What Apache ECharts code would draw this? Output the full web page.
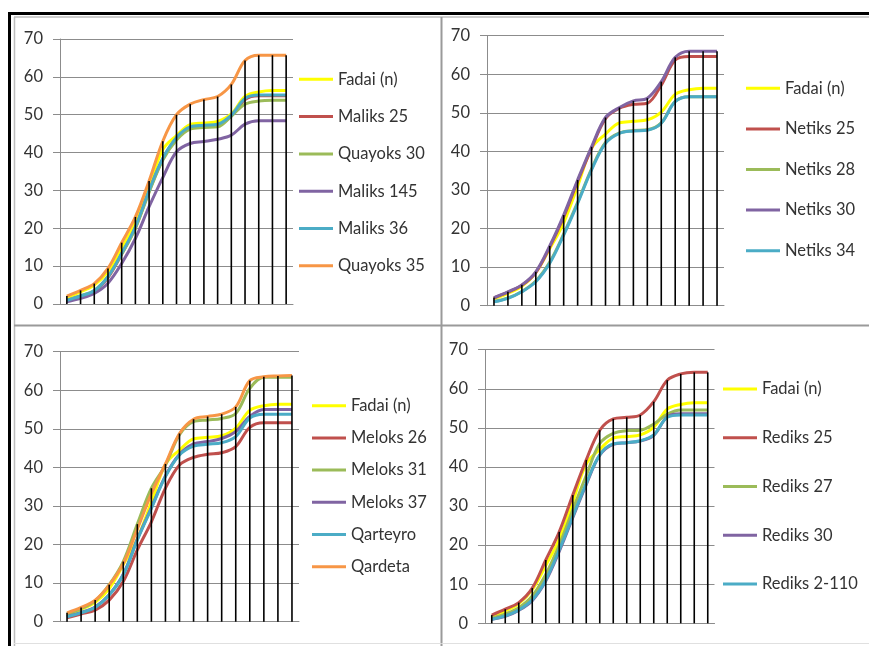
<!DOCTYPE html>
<html>
<head>
<meta charset="utf-8">
<script src="https://cdn.jsdelivr.net/npm/echarts@6/dist/echarts.min.js"></script>
<style>
html,body{margin:0;padding:0;background:#fff;}
#c{width:869px;height:646px;}
</style>
</head>
<body>
<div id="c"></div>
<script>
// ---- data ----
var categories = ['1','2','3','4','5','6','7','8','9','10','11','12','13','14','15','16','17'];
var yTicks = [0,10,20,30,40,50,60,70];

var fadai      = [1.8, 3.2, 5.0, 8.6, 14.8, 21.5, 31.0, 40.8, 44.5, 47.4, 47.8, 48.2, 50.2, 54.8, 56.0, 56.4, 56.4];

// panel 1
var maliks25   = [1.0, 2.0, 3.4, 7.0, 13.2, 20.2, 29.8, 38.3, 43.8, 46.6, 47.0, 47.3, 49.7, 54.0, 55.0, 55.0, 55.0];
var quayoks30  = [1.1, 2.2, 3.6, 7.3, 13.2, 20.0, 29.5, 38.0, 43.3, 46.2, 46.6, 46.8, 49.6, 52.8, 53.6, 53.8, 53.8];
var maliks145  = [0.6, 1.5, 2.8, 5.5, 10.7, 17.3, 25.7, 33.4, 40.2, 42.4, 42.9, 43.5, 44.6, 47.5, 48.4, 48.4, 48.4];
var maliks36   = [1.0, 2.1, 3.5, 7.2, 13.4, 20.4, 30.0, 38.5, 44.0, 46.8, 47.2, 47.5, 49.9, 54.3, 55.2, 55.2, 55.2];
var quayoks35  = [2.1, 3.6, 5.4, 9.4, 16.2, 23.0, 32.5, 43.0, 50.0, 52.8, 54.0, 54.8, 58.0, 64.3, 65.7, 65.7, 65.7];

// panel 2
var netiks25   = [2.0, 3.5, 5.3, 8.6, 15.2, 23.0, 32.2, 40.8, 48.5, 51.2, 52.2, 52.5, 57.2, 63.7, 64.6, 64.6, 64.6];
var netiks28   = [1.1, 2.0, 3.7, 6.4, 11.3, 18.6, 26.8, 35.5, 42.3, 44.8, 45.4, 45.6, 47.4, 53.0, 54.2, 54.2, 54.2];
var netiks30   = [2.1, 3.6, 5.4, 8.8, 15.5, 23.5, 32.6, 41.2, 48.8, 51.4, 53.1, 53.8, 58.1, 64.4, 66.0, 66.0, 66.0];
var netiks34   = [1.0, 1.9, 3.6, 6.2, 11.0, 18.3, 26.5, 35.2, 42.1, 44.7, 45.3, 45.5, 47.3, 52.9, 54.2, 54.2, 54.2];

// panel 3
var meloks26   = [1.0, 2.0, 3.0, 5.6, 10.4, 18.6, 25.9, 34.6, 40.6, 42.6, 43.4, 43.8, 45.4, 50.4, 51.6, 51.6, 51.6];
var meloks31   = [2.0, 3.4, 5.4, 9.6, 15.6, 25.3, 34.6, 40.6, 48.5, 51.9, 52.3, 52.7, 54.0, 60.5, 63.4, 63.4, 63.4];
var meloks37   = [1.3, 2.4, 3.8, 7.0, 12.3, 21.4, 29.6, 37.8, 43.4, 46.1, 46.7, 47.5, 49.3, 53.2, 55.0, 55.0, 55.0];
var qarteyro   = [1.3, 2.3, 3.7, 6.9, 12.1, 21.2, 29.4, 37.6, 43.2, 45.5, 46.0, 46.4, 48.0, 52.8, 53.8, 53.8, 53.8];
var qardeta    = [2.3, 3.7, 5.6, 9.5, 15.1, 24.0, 33.2, 40.9, 48.8, 52.5, 53.2, 53.8, 55.7, 62.5, 63.5, 63.7, 63.8];

// panel 4
var rediks25   = [2.1, 3.6, 5.3, 9.0, 16.2, 23.4, 32.8, 41.8, 49.4, 52.3, 52.7, 53.3, 56.7, 62.2, 63.8, 64.2, 64.2];
var rediks27   = [1.3, 2.4, 4.0, 7.0, 12.5, 20.0, 29.0, 37.8, 46.0, 48.6, 49.3, 49.4, 51.0, 53.5, 54.6, 54.6, 54.6];
var rediks30   = [1.0, 1.8, 3.3, 5.8, 10.8, 18.4, 27.0, 35.5, 43.0, 45.8, 46.2, 46.6, 48.1, 52.8, 53.6, 53.6, 53.6];
var rediks2110 = [1.0, 1.9, 3.4, 6.0, 11.1, 18.8, 27.3, 35.8, 43.1, 45.9, 46.2, 46.7, 48.2, 52.7, 53.3, 53.3, 53.3];

// ---- styling ----
var C = {yellow:'#FFFF00', red:'#C0504D', green:'#9BBB59', purple:'#8064A2', teal:'#4BACC6', orange:'#F79646'};
var FONT = 'Lato, "Open Sans", "Liberation Sans", sans-serif';
var GRIDC = '#8c8c8c';

var panels = [
  { grid:{left:60, top:39, width:233, height:265},
    legend:{left:299, top:70.3, gap:19.3},
    series:[['Fadai (n)',fadai,C.yellow],['Maliks 25',maliks25,C.red],['Quayoks 30',quayoks30,C.green],
            ['Maliks 145',maliks145,C.purple],['Maliks 36',maliks36,C.teal],['Quayoks 35',quayoks35,C.orange]] },
  { grid:{left:487, top:35.7, width:237, height:270},
    legend:{left:746, top:79.3, gap:22.6},
    series:[['Fadai (n)',fadai,C.yellow],['Netiks 25',netiks25,C.red],['Netiks 28',netiks28,C.green],
            ['Netiks 30',netiks30,C.purple],['Netiks 34',netiks34,C.teal]] },
  { grid:{left:60, top:351.7, width:239, height:270},
    legend:{left:312, top:396.7, gap:14.2},
    series:[['Fadai (n)',fadai,C.yellow],['Meloks 26',meloks26,C.red],['Meloks 31',meloks31,C.green],
            ['Meloks 37',meloks37,C.purple],['Qarteyro',qarteyro,C.teal],['Qardeta',qardeta,C.orange]] },
  { grid:{left:485, top:349.7, width:229.5, height:273.6},
    legend:{left:723, top:380, gap:30.75},
    series:[['Fadai (n)',fadai,C.yellow],['Rediks 25',rediks25,C.red],['Rediks 27',rediks27,C.green],
            ['Rediks 30',rediks30,C.purple],['Rediks 2-110',rediks2110,C.teal]] }
];

var grids=[], xAxes=[], yAxes=[], legends=[], series=[];
panels.forEach(function(p, i){
  grids.push({left:p.grid.left, top:p.grid.top, width:p.grid.width, height:p.grid.height, containLabel:false});
  xAxes.push({type:'category', gridIndex:i, data:categories, boundaryGap:true,
    axisLine:{show:true, lineStyle:{color:GRIDC, width:1}}, axisTick:{show:false}, axisLabel:{show:false}, splitLine:{show:false}});
  yAxes.push({type:'value', gridIndex:i, min:yTicks[0], max:yTicks[yTicks.length-1], interval:10,
    axisLine:{show:true, lineStyle:{color:GRIDC, width:1}},
    axisTick:{show:true, length:7, lineStyle:{color:GRIDC}},
    axisLabel:{show:true, margin:17, color:'#333', fontSize:16.5, fontFamily:FONT},
    splitLine:{show:true, lineStyle:{color:GRIDC, width:1}}});
  legends.push({orient:'vertical', left:p.legend.left, top:p.legend.top, itemGap:p.legend.gap, padding:0,
    icon:'rect', itemWidth:34, itemHeight:3,
    textStyle:{fontSize:16.5, lineHeight:18, color:'#333', fontFamily:FONT},
    data:p.series.map(function(s){return s[0];}), selectedMode:false});
  p.series.forEach(function(s){
    series.push({type:'line', name:s[0], xAxisIndex:i, yAxisIndex:i, data:s[1], smooth:0.35,
      symbol:'none', color:s[2], lineStyle:{width:3, color:s[2]}, z:2});
  });
  // drop lines: from the highest series value at each category down to the axis
  var tops = categories.map(function(_, k){
    return Math.max.apply(null, p.series.map(function(s){return s[1][k];}));
  });
  series.push({type:'bar', name:'drop'+i, xAxisIndex:i, yAxisIndex:i, data:tops, barWidth:1.6,
    itemStyle:{color:'#000'}, z:4, silent:true});
});

var graphic = [
  // outer black frame
  {type:'line', shape:{x1:8, y1:13.5, x2:869, y2:13.5}, style:{stroke:'#000', lineWidth:3}, silent:true},
  {type:'line', shape:{x1:9.5, y1:12, x2:9.5, y2:646}, style:{stroke:'#000', lineWidth:3}, silent:true},
  // light gray inner panel borders
  {type:'line', shape:{x1:14, y1:17, x2:869, y2:17}, style:{stroke:'#bdbdbd', lineWidth:1.5}, silent:true},
  {type:'line', shape:{x1:14.5, y1:17, x2:14.5, y2:646}, style:{stroke:'#bdbdbd', lineWidth:1.5}, silent:true},
  {type:'line', shape:{x1:441.5, y1:17, x2:441.5, y2:646}, style:{stroke:'#9a9a9a', lineWidth:2}, silent:true},
  {type:'line', shape:{x1:14, y1:325.5, x2:869, y2:325.5}, style:{stroke:'#9a9a9a', lineWidth:2}, silent:true},
  {type:'line', shape:{x1:14, y1:643.5, x2:869, y2:643.5}, style:{stroke:'#e0e0e0', lineWidth:1}, silent:true}
];

var chart = echarts.init(document.getElementById('c'), null, {renderer:'canvas'});
chart.setOption({
  animation:false,
  backgroundColor:'#fff',
  grid:grids, xAxis:xAxes, yAxis:yAxes, legend:legends, series:series, graphic:graphic
});
</script>
</body>
</html>
